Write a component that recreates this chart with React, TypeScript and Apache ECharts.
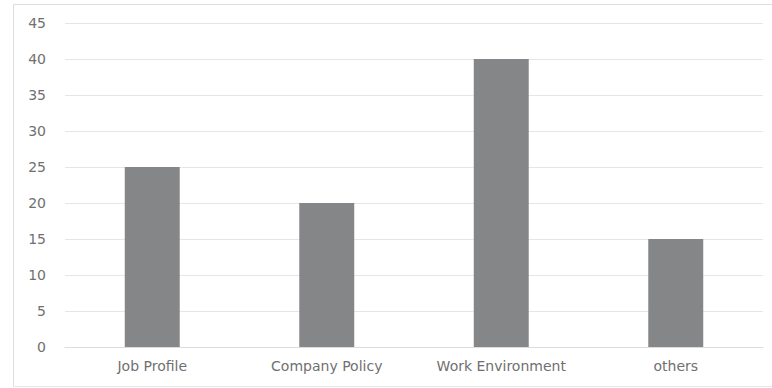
import React, { useEffect, useRef } from "react";
import * as echarts from "echarts";

const categories = ["Job Profile", "Company Policy", "Work Environment", "others"];
const values = [25, 20, 40, 15];

export default function App() {
  const ref = useRef<HTMLDivElement>(null);
  useEffect(() => {
    const chart = echarts.init(ref.current!, null, { renderer: "svg" });
    chart.setOption({
      animation: false,
      backgroundColor: "#ffffff",
      grid: { left: 65, right: 9, top: 23, bottom: 41, containLabel: false },
      xAxis: {
        type: "category",
        data: categories,
        axisLine: { show: true, lineStyle: { color: "#dcdcdc", width: 1 } },
        axisTick: { show: false },
        axisLabel: { color: "#707070", fontSize: 14, fontFamily: "DejaVu Sans", margin: 12 },
      },
      yAxis: {
        type: "value",
        min: 0,
        max: 45,
        interval: 5,
        axisLine: { show: false },
        axisTick: { show: false },
        splitLine: { lineStyle: { color: "#e6e6e6", width: 1 } },
        axisLabel: { color: "#707070", fontSize: 14, fontFamily: "DejaVu Sans", margin: 19 },
      },
      series: [
        {
          type: "bar",
          data: values,
          barWidth: "31.5%",
          itemStyle: { color: "#858688" },
        },
      ],
      graphic: [
        { type: "line", shape: { x1: 13.5, y1: 4.5, x2: 13.5, y2: 386.5 }, style: { stroke: "#dedede", lineWidth: 1 } },
        { type: "line", shape: { x1: 13.5, y1: 4.5, x2: 772, y2: 4.5 }, style: { stroke: "#dedede", lineWidth: 1 } },
        { type: "line", shape: { x1: 13.5, y1: 386.5, x2: 772, y2: 386.5 }, style: { stroke: "#e6e6e6", lineWidth: 1 } },
      ],
    });
    return () => chart.dispose();
  }, []);
  return (
    <div
      ref={ref}
      style={{ position: "fixed", left: 0, top: 0, width: 772, height: 388 }}
    />
  );
}
